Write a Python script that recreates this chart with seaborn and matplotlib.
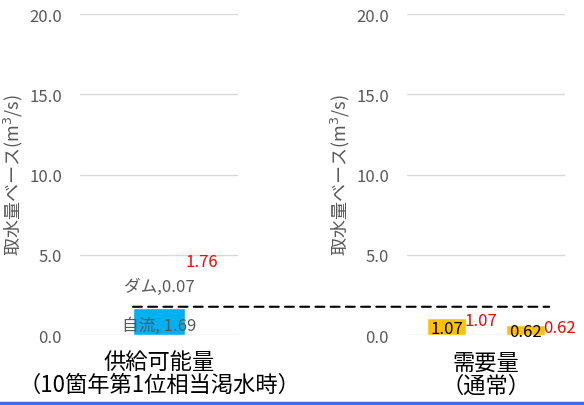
import matplotlib as mpl
mpl.use("Agg")
import matplotlib.pyplot as plt
from matplotlib.patches import ConnectionPatch
from matplotlib.lines import Line2D
import seaborn as sns
import pandas as pd

sns.set_style("white")
plt.rcParams['font.family'] = ['Noto Sans CJK JP', 'DejaVu Sans']

# data
supply_parts = ['自流', 'ダム']
supply_vals = [1.69, 0.07]
supply_label = '供給可能量\n（10箇年第1位相当渇水時）'

demand_cats = ['A', 'B']
demand_vals = [1.07, 0.62]
demand_label = '需要量\n（通常）'

yticks = [0, 5, 10, 15, 20]
ylab = '取水量ベース(m$^3$/s)'

c_jiryu = '#00B0F0'
c_dam = '#9DC3E6'
c_dem = '#FFC000'
grey = '#595959'

supply_total = sum(supply_vals)

fig = plt.figure(figsize=(5.84, 4.06), dpi=100)
ax1 = fig.add_axes([0.137, 0.1724, 0.2705, 0.7906])
ax2 = fig.add_axes([0.697, 0.1724, 0.2705, 0.7906])

# left: stacked bar (total behind, own-flow in front)
df_s = pd.DataFrame({'cat': [supply_label], 'total': [supply_total], 'jiryu': [supply_vals[0]]})
sns.barplot(data=df_s, x='cat', y='total', color=c_dam, saturation=1, width=0.33, ax=ax1)
sns.barplot(data=df_s, x='cat', y='jiryu', color=c_jiryu, saturation=1, width=0.33, ax=ax1)
ax1.set_xlim(-0.5, 0.5)

ax1.text(0, supply_vals[0] / 2 - 0.23, f'{supply_parts[0]}, {supply_vals[0]:.2f}',
         ha='center', va='center', fontsize=12, color=grey)
ax1.text(0, supply_total + 1.3, f'{supply_parts[1]},{supply_vals[1]:.2f}',
         ha='center', va='center', fontsize=12, color=grey)
ax1.text(0.27, supply_total + 2.8, f'{supply_total:.2f}',
         ha='center', va='center', fontsize=12, color='red')

# right: demand
df_d = pd.DataFrame({'cat': demand_cats, 'val': demand_vals})
sns.barplot(data=df_d, x='cat', y='val', color=c_dem, saturation=1, width=0.5, ax=ax2)
ax2.set_xlim(-0.5, 1.5)
for i, v in enumerate(demand_vals):
    ax2.text(i, v / 2 - 0.1, f'{v:.2f}', ha='center', va='center', fontsize=12, color='black')
    ax2.text(i + 0.43, v - 0.15, f'{v:.2f}', ha='center', va='center', fontsize=12, color='red')

for ax, xl in [(ax1, supply_label), (ax2, demand_label)]:
    ax.set_ylim(0, 20)
    ax.set_yticks(yticks)
    ax.set_yticklabels([f'{t:.1f}' for t in yticks])
    ax.tick_params(axis='y', length=0, pad=13, labelsize=12, labelcolor=grey)
    ax.set_xticks([])
    ax.grid(axis='y', color='#D9D9D9', linewidth=1)
    ax.set_axisbelow(True)
    sns.despine(ax=ax, left=True, bottom=True, top=True, right=True)
    ax.set_ylabel(ylab, fontsize=13, color=grey)
    ax.yaxis.set_label_coords(-0.35, 0.5)
    ax.set_xlabel(xl, fontsize=16, color='black', linespacing=1.0, labelpad=11)

# dashed supply line across both panels
con = ConnectionPatch(xyA=(-0.165, supply_total), coordsA=ax1.transData,
                      xyB=(1.3, supply_total), coordsB=ax2.transData,
                      linestyle=(0, (4.3, 3)), linewidth=1.5, color='black', zorder=5)
fig.add_artist(con)

# blue border at bottom
fig.add_artist(Line2D([0, 1], [0.004, 0.004], transform=fig.transFigure, color='#3B6FE6', linewidth=2.5))

fig.savefig('out.png', dpi=100)
